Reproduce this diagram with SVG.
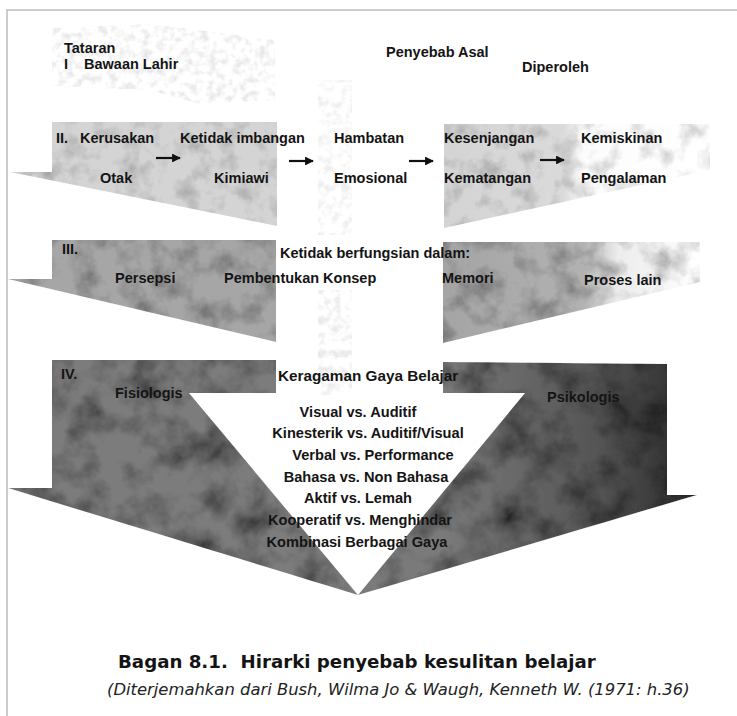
<svg xmlns="http://www.w3.org/2000/svg" width="737" height="716" viewBox="0 0 737 716">
<style>
.t{font-family:"Liberation Sans",Arial,sans-serif;font-weight:bold;font-size:14.5px;fill:#141414}
.c{text-anchor:middle;font-size:14.6px}
.cap{font-family:"DejaVu Sans",Verdana,sans-serif;font-size:18.2px;font-weight:bold;fill:#141414}
.cap2{font-family:"DejaVu Sans",Verdana,sans-serif;font-size:16.4px;font-style:italic;fill:#222}
.arr{stroke:#111;stroke-width:2.2;fill:none;marker-end:url(#ah)}
</style>
<defs>
<marker id="ah" viewBox="0 0 10 10" refX="9" refY="5" markerWidth="4" markerHeight="4" orient="auto" markerUnits="strokeWidth"><path d="M0,0 L10,5 L0,10 z" fill="#111"/></marker>
<filter id="mot" filterUnits="userSpaceOnUse" x="0" y="0" width="737" height="716">
<feTurbulence type="fractalNoise" baseFrequency="0.05" numOctaves="4" seed="3" result="n"/>
<feColorMatrix in="n" type="matrix" values="0.9 0 0 0 0.5  0.9 0 0 0 0.5  0.9 0 0 0 0.5  0 0 0 0 1" result="g"/>
<feComposite in="g" in2="SourceGraphic" operator="in" result="c"/>
<feBlend in="c" in2="SourceGraphic" mode="multiply"/>
</filter>
<filter id="mot3" filterUnits="userSpaceOnUse" x="0" y="0" width="737" height="716">
<feTurbulence type="fractalNoise" baseFrequency="0.04" numOctaves="4" seed="5" result="n"/>
<feColorMatrix in="n" type="matrix" values="1.2 0 0 0 0.3  1.2 0 0 0 0.3  1.2 0 0 0 0.3  0 0 0 0 1" result="g"/>
<feComposite in="g" in2="SourceGraphic" operator="in" result="c"/>
<feBlend in="c" in2="SourceGraphic" mode="multiply"/>
</filter>
<filter id="motD" filterUnits="userSpaceOnUse" x="0" y="0" width="737" height="716">
<feTurbulence type="fractalNoise" baseFrequency="0.03" numOctaves="4" seed="7" result="n"/>
<feColorMatrix in="n" type="matrix" values="1.6 0 0 0 0  1.6 0 0 0 0  1.6 0 0 0 0  0 0 0 0 1" result="g"/>
<feComposite in="g" in2="SourceGraphic" operator="in" result="c"/>
<feBlend in="c" in2="SourceGraphic" mode="multiply"/>
</filter>
<filter id="spk" filterUnits="userSpaceOnUse" x="0" y="0" width="737" height="716">
<feTurbulence type="fractalNoise" baseFrequency="0.12" numOctaves="3" seed="11" result="n"/>
<feColorMatrix in="n" type="matrix" values="0 0 0 0 0.7  0 0 0 0 0.7  0 0 0 0 0.7  -3 0 0 0 1.7" result="g"/>
<feComposite in="g" in2="SourceGraphic" operator="in"/>
</filter>
<linearGradient id="g2r" x1="444" y1="0" x2="710" y2="0" gradientUnits="userSpaceOnUse">
<stop offset="0" stop-color="#d4d4d4"/><stop offset="0.45" stop-color="#dadada"/><stop offset="0.52" stop-color="#fcfcfc"/><stop offset="1" stop-color="#fff"/>
</linearGradient>
<linearGradient id="g3r" x1="443" y1="0" x2="700" y2="0" gradientUnits="userSpaceOnUse">
<stop offset="0" stop-color="#a4a4a4"/><stop offset="0.55" stop-color="#b2b2b2"/><stop offset="0.68" stop-color="#ececec"/><stop offset="1" stop-color="#fff"/>
</linearGradient>
<linearGradient id="g4r" x1="443" y1="0" x2="697" y2="0" gradientUnits="userSpaceOnUse">
<stop offset="0" stop-color="#7a7a7a"/><stop offset="0.6" stop-color="#555"/><stop offset="1" stop-color="#2a2a2a"/>
</linearGradient>
</defs>
<rect width="737" height="716" fill="#fff"/>
<path d="M7,716 V10 H737" fill="none" stroke="#bdbdbd" stroke-width="1.5"/>

<g id="tier1">
<path d="M52,28 L150,24 L275,40 L275,100 L200,104 L150,90 L52,86 Z" fill="#e4e4e4" filter="url(#spk)" opacity="0.6"/>
<path d="M318,80 L352,80 L352,235 L318,235 Z" fill="#eee" filter="url(#spk)" opacity="0.45"/>
<path d="M318,290 L352,290 L352,395 L318,395 Z" fill="#e8e8e8" filter="url(#spk)" opacity="0.55"/>
<text class="t" x="64" y="53">Tataran</text>
<text class="t" x="64" y="69">I</text>
<text class="t" x="84" y="69">Bawaan Lahir</text>
<text class="t" x="386" y="57">Penyebab Asal</text>
<text class="t" x="522" y="72">Diperoleh</text>
</g>

<g id="tier2">
<path d="M52,122 L277,122 L277,226 L10,172 L52,172 Z" fill="#d4d4d4" filter="url(#mot)"/>
<path d="M444,124 L710,124 L710,170 L444,228 Z" fill="url(#g2r)" filter="url(#mot)"/>
<text class="t" x="56" y="143">II.</text>
<text class="t" x="80" y="143">Kerusakan</text>
<text class="t" x="180" y="143">Ketidak imbangan</text>
<text class="t" x="334" y="143">Hambatan</text>
<text class="t" x="444" y="143">Kesenjangan</text>
<text class="t" x="581" y="143">Kemiskinan</text>
<text class="t" x="100" y="183">Otak</text>
<text class="t" x="214" y="183">Kimiawi</text>
<text class="t" x="334" y="183">Emosional</text>
<text class="t" x="444" y="183">Kematangan</text>
<text class="t" x="581" y="183">Pengalaman</text>
</g>

<g id="connectors">
<line class="arr" x1="156" y1="158" x2="180" y2="158"/>
<line class="arr" x1="289" y1="161" x2="313" y2="161"/>
<line class="arr" x1="409" y1="161" x2="433" y2="161"/>
<line class="arr" x1="540" y1="160" x2="564" y2="160"/>
</g>

<g id="tier3">
<path d="M52,240 L276,240 L276,342 L8,279 L52,279 Z" fill="#a6a6a6" filter="url(#mot3)"/>
<path d="M443,242 L700,242 L700,282 L443,343 Z" fill="url(#g3r)" filter="url(#mot3)"/>
<text class="t" x="62" y="254">III.</text>
<text class="t" x="280" y="258">Ketidak berfungsian dalam:</text>
<text class="t" x="115" y="283">Persepsi</text>
<text class="t" x="224" y="283">Pembentukan Konsep</text>
<text class="t" x="442" y="283">Memori</text>
<text class="t" x="584" y="285">Proses lain</text>
</g>

<g id="tier4">
<path d="M52,360 L276,360 L276,393 L189,393 L358,595 L8,488 L52,488 Z" fill="#7c7c7c" filter="url(#motD)"/>
<path d="M443,362 L667,364 L667,495 L697,495 L358,595 L525,393 L443,393 Z" fill="url(#g4r)" filter="url(#motD)"/>
<text class="t" x="61" y="379">IV.</text>
<text class="t" x="278" y="381" style="font-size:15.3px">Keragaman Gaya Belajar</text>
<text class="t" x="115" y="398">Fisiologis</text>
<text class="t" x="547" y="402">Psikologis</text>
<text class="t c" x="358" y="417">Visual vs. Auditif</text>
<text class="t c" x="368" y="438">Kinesterik vs. Auditif/Visual</text>
<text class="t c" x="373" y="460">Verbal vs. Performance</text>
<text class="t c" x="366" y="482">Bahasa vs. Non Bahasa</text>
<text class="t c" x="358" y="503">Aktif vs. Lemah</text>
<text class="t c" x="360" y="525">Kooperatif vs. Menghindar</text>
<text class="t c" x="357" y="547">Kombinasi Berbagai Gaya</text>
</g>

<g id="caption">
<text class="cap" x="118" y="668" xml:space="preserve">Bagan 8.1.  Hirarki penyebab kesulitan belajar</text>
<text class="cap2" x="107" y="695">(Diterjemahkan dari Bush, Wilma Jo &amp; Waugh, Kenneth W. (1971: h.36)</text>
</g>
</svg>
